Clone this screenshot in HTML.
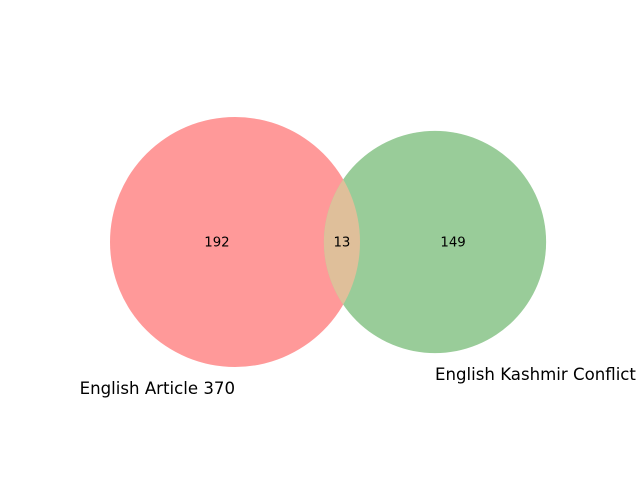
<!DOCTYPE html>
<html><head><meta charset="utf-8"><style>
html,body{margin:0;padding:0;background:#fff;}
svg{display:block;font-family:"DejaVu Sans","Liberation Sans",sans-serif;}
</style></head><body>
<svg id="chart" width="640" height="480" viewBox="0 0 640 480"></svg>
<script>
const setLabels = ["English Article 370", "English Kashmir Conflict"];
const subsetCounts = [192, 149, 13]; // only A, only B, A and B
const NS = "http://www.w3.org/2000/svg";
const svg = document.getElementById("chart");
function mk(tag, attrs){const e=document.createElementNS(NS,tag);for(const k in attrs)e.setAttribute(k,attrs[k]);svg.appendChild(e);return e;}
const totA = subsetCounts[0]+subsetCounts[2], totB = subsetCounts[1]+subsetCounts[2];
const k = 125/Math.sqrt(205);
const rA = k*Math.sqrt(totA), rB = k*Math.sqrt(totB);
const cy = 242;
const cxA = 235, cxB = cxA + 200;
const defs = document.createElementNS(NS,"defs"); svg.appendChild(defs);
const cp = document.createElementNS(NS,"clipPath"); cp.setAttribute("id","clipA"); defs.appendChild(cp);
const cc = document.createElementNS(NS,"circle"); cc.setAttribute("cx",cxA); cc.setAttribute("cy",cy); cc.setAttribute("r",rA); cp.appendChild(cc);
const a = mk("circle",{cx:cxA,cy:cy,r:rA,fill:"#ff9999"});


const b = mk("circle",{cx:cxB,cy:cy,r:rB,fill:"#99cc99"});


const o = mk("circle",{cx:cxB,cy:cy,r:rB,fill:"#dfbf9a","clip-path":"url(#clipA)"});


const leftEdgeB = cxB - rB, rightEdgeA = cxA + rA;
const pos = [[(cxA - rA + leftEdgeB)/2, "label-only-a"], [(rightEdgeA + cxB + rB)/2, "label-only-b"], [(leftEdgeB+rightEdgeA)/2, "label-overlap"]];
pos.forEach((p,i)=>{
  const t = mk("text",{x:p[0],y:cy+4.5,"text-anchor":"middle","font-size":"13.3",fill:"#000"});
  t.textContent = subsetCounts[i];
  
  
});
const l1 = mk("text",{x:cxA,y:cy+rA+27,"text-anchor":"end","font-size":"16.6",fill:"#000"});
l1.textContent = setLabels[0];


const l2 = mk("text",{x:cxB,y:cy+rB+27,"text-anchor":"start","font-size":"16.6",fill:"#000"});
l2.textContent = setLabels[1];


</script>
</body></html>
